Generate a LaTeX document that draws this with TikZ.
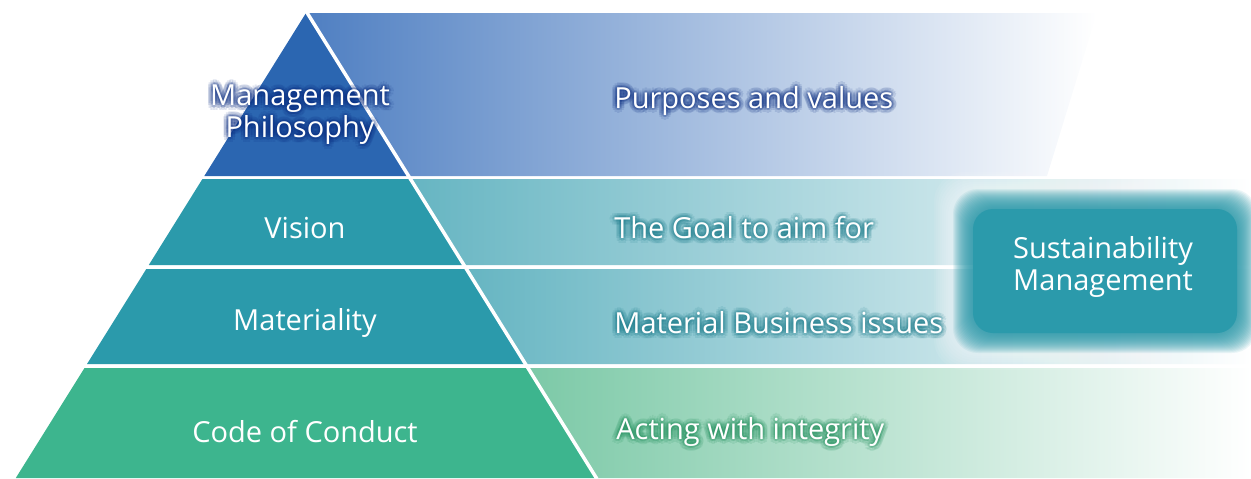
\documentclass[tikz,border=0pt]{standalone}
\usepackage{fontspec}
\setmainfont{Open Sans}
\usetikzlibrary{calc}
\definecolor{pyrblue}{HTML}{2B66B1}
\definecolor{pyrteal}{HTML}{2B9AAB}
\definecolor{pyrgreen}{HTML}{3DB58E}
\definecolor{bandblue}{HTML}{4F7FC2}
\definecolor{bandbluemid}{HTML}{C2CAE6}
\definecolor{bandteal}{HTML}{66B5C2}
\definecolor{bandtealmid}{HTML}{D2E5EA}
\definecolor{bandgreen}{HTML}{7CC9A7}
\definecolor{bandgreenmid}{HTML}{D0EBDF}
\definecolor{glowblue}{HTML}{0A2C80}
\definecolor{glowteal}{HTML}{1B7C8C}
\definecolor{glowgreen}{HTML}{24925F}
\definecolor{boxteal}{HTML}{2B9AAB}
\newcommand\glownode[5]{% name, position, anchor, glow colour, text
  \foreach \ang [count=\k] in {0,30,...,330}{
    \node[lbl,anchor=#3,text=#4,opacity=0.14] (#1-a\k) at ($(#2)+(\ang:1.3pt)$) {#5};
    \node[lbl,anchor=#3,text=#4,opacity=0.12] (#1-b\k) at ($(#2)+(\ang:2.8pt)$) {#5};
  }
  \node[lbl,anchor=#3] (#1) at (#2) {#5};
}
\begin{document}
\begin{tikzpicture}[x=0.02cm,y=-0.02cm,
  lbl/.style={text=white,font=\fontsize{16.5}{18.2}\selectfont,align=center,inner sep=0pt}]
\useasboundingbox (0,0) rectangle (1251,478);
% right-hand bands
\shade[left color=bandblue,middle color=bandbluemid,right color=white]
  (306,13) -- (1097,13) -- (1047,176) -- (407.7,176) -- cycle;
\shade[left color=bandteal,middle color=bandtealmid,right color=white]
  (409.6,179) -- (1251,179) -- (1251,265) -- (463.2,265) -- cycle;
\shade[left color=bandteal,middle color=bandtealmid,right color=white]
  (465.7,269) -- (1251,269) -- (1251,364) -- (525,364) -- cycle;
\shade[left color=bandgreen,middle color=bandgreenmid,right color=white]
  (527.5,368) -- (1251,368) -- (1251,478) -- (596.2,478) -- cycle;
% pyramid
\fill[pyrblue] (306,13) -- (407.7,176) -- (204.3,176) -- cycle;
\fill[pyrteal] (202.4,179) -- (409.6,179) -- (463.2,265) -- (148.8,265) -- cycle;
\fill[pyrteal] (146.3,269) -- (465.7,269) -- (525,364) -- (87,364) -- cycle;
\fill[pyrgreen] (84.5,368) -- (527.5,368) -- (596.2,478) -- (15.8,478) -- cycle;
\draw[white,line width=0.07cm] (306,11) -- (597,479);
% sustainability box with soft edges
\foreach \i in {0,...,7}{
  \fill[white,opacity=0.07,rounded corners=0.6cm]
    ({948-2*\i},{186-2*\i}) rectangle ({1264+2*\i},{356+2*\i});
}
\foreach \i in {-10,...,10}{
  \fill[boxteal,opacity=0.09,rounded corners=0.5cm]
    ({963-\i},{199-\i}) rectangle ({1247+\i},{343+\i});
}
\fill[boxteal,rounded corners=0.4cm] (973,209) rectangle (1237,333);
\node[lbl] (sm) at (1103,267) {Sustainability\\Management};
% labels
\glownode{mp}{300,115}{center}{glowblue}{Management\\Philosophy}
\glownode{pv}{614,101}{west}{glowblue}{Purposes and values}
\node[lbl] (vi) at (305,228) {Vision};
\glownode{ga}{614,228}{west}{glowteal}{The Goal to aim for}
\node[lbl] (ma) at (305,323) {Materiality};
\glownode{mb}{614,323}{west}{glowteal}{Material Business issues}
\node[lbl] (cc) at (305,432) {Code of Conduct};
\glownode{ai}{616,432}{west}{glowgreen}{Acting with integrity}
\end{tikzpicture}
\end{document}
